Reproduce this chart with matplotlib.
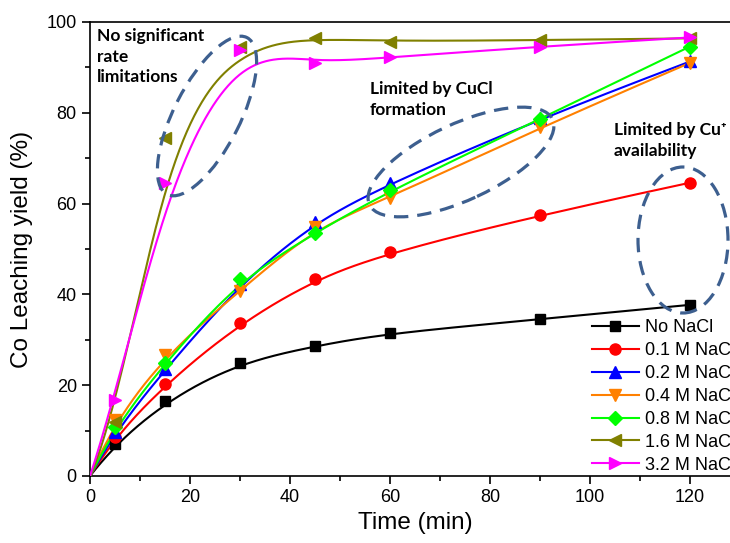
import numpy as np
import matplotlib
matplotlib.use("Agg")
import matplotlib.pyplot as plt
from matplotlib.patches import Ellipse
import matplotlib.transforms as mtransforms

plt.rcParams['font.family'] = ['Liberation Sans', 'DejaVu Sans']

time = [0, 5, 15, 30, 45, 60, 90, 120]
no_nacl = [0, 7.0, 16.6, 25.0, 28.6, 31.6, 34.5, 37.7]
nacl_01 = [0, 8.7, 20.3, 33.6, 43.3, 49.4, 57.5, 64.6]
nacl_02 = [0, 9.8, 23.5, 42.3, 56.0, 64.5, 78.8, 91.3]
nacl_04 = [0, 12.3, 26.7, 40.8, 54.8, 61.2, 76.8, 91.0]
nacl_08 = [0, 10.9, 25.0, 43.3, 53.5, 63.0, 78.6, 94.6]
nacl_16 = [0, 12.0, 74.4, 94.6, 96.4, 95.7, 96.0, 96.4]
nacl_32 = [0, 16.8, 64.6, 93.8, 91.0, 92.2, 94.6, 96.6]

labels = ["No NaCl", "0.1 M NaCl", "0.2 M NaCl", "0.4 M NaCl",
          "0.8 M NaCl", "1.6 M NaCl", "3.2 M NaCl"]
series = [no_nacl, nacl_01, nacl_02, nacl_04, nacl_08, nacl_16, nacl_32]
colors = ["#000000", "#ff0000", "#0000ff", "#ff8000", "#00ff00", "#808000", "#ff00ff"]
markers = ["s", "o", "^", "v", "D", "<", ">"]
msizes = [7, 8, 8, 8, 7, 8, 8]


def bspline(xs, ys, num=400):
    P = np.column_stack([xs, ys]).astype(float)
    n = len(P) - 1
    k = 3
    knots = np.concatenate([[0] * k, np.arange(0, n - k + 2), [n - k + 1] * k]).astype(float)
    ts = np.linspace(0, n - k + 1, num)
    out = []
    for t in ts:
        if t >= knots[n + 1]:
            s = n
        else:
            s = np.searchsorted(knots, t, side='right') - 1
        d = [P[j + s - k].copy() for j in range(k + 1)]
        for r in range(1, k + 1):
            for j in range(k, r - 1, -1):
                i = j + s - k
                denom = knots[i + k + 1 - r] - knots[i]
                alpha = 0.0 if denom == 0 else (t - knots[i]) / denom
                d[j] = (1 - alpha) * d[j - 1] + alpha * d[j]
        out.append(d[k])
    out = np.array(out)
    return out[:, 0], out[:, 1]


fig = plt.figure(figsize=(7.30, 5.43), dpi=100)
ax_left = 90 / 730
ax_bottom = 1 - 476 / 543
ax_w = 130 * 5 / 730
ax_h = (476 - 22) / 543
ax = fig.add_axes([ax_left, ax_bottom, ax_w, ax_h])

for ys, c, m, ms, lab in zip(series, colors, markers, msizes, labels):
    bx, by = bspline(time, ys)
    ax.plot(bx, by, color=c, lw=1.5, zorder=3)
    ax.plot(time[1:], ys[1:], linestyle='none', marker=m, color=c, ms=ms, zorder=4)
    ax.plot([], [], color=c, lw=1.5, marker=m, ms=ms, label=lab)

ax.set_xlim(0, 130)
ax.set_ylim(0, 100)
ax.set_xticks([0, 20, 40, 60, 80, 100, 120])
ax.set_xticks(np.arange(0, 131, 10), minor=True)
ax.set_yticks([0, 20, 40, 60, 80, 100])
ax.set_yticks(np.arange(0, 101, 10), minor=True)
ax.tick_params(which='major', direction='out', length=6, width=1.2, labelsize=13)
ax.tick_params(which='minor', direction='out', length=3.5, width=1.2)
for sp in ax.spines.values():
    sp.set_linewidth(1.2)
ax.set_xlabel("Time (min)", fontsize=17.5, labelpad=4)
ax.set_ylabel("Co Leaching yield (%)", fontsize=17.5, labelpad=10)

leg = ax.legend(loc='upper left', bbox_to_anchor=(592 / 730, 1 - 319 / 543),
                bbox_transform=fig.transFigure, frameon=False, fontsize=13,
                handlelength=2.6, handletextpad=0.35, labelspacing=0.33,
                borderaxespad=0, borderpad=0)

ann_font = dict(family=['Lato', 'DejaVu Sans'], fontweight='bold', fontsize=12.5, color='black')
ax.text((97 - 90) / 5, (476 - 28) / 4.54, "No significant\nrate\nlimitations",
        va='top', ha='left', linespacing=1.35, **ann_font, zorder=6)
ax.text((370 - 90) / 5, (476 - 81) / 4.54, "Limited by CuCl\nformation",
        va='top', ha='left', linespacing=1.35, **ann_font, zorder=6)
ax.text((614 - 90) / 5, (476 - 122) / 4.54, "Limited by Cu\u207a\navailability",
        va='top', ha='left', linespacing=1.35, **ann_font, zorder=6)

ell_color = '#3d5f8f'
ellipses = [
    ((207 - 90) / 5, (476 - 116) / 4.54, 176, 66, 63),
    ((461 - 90) / 5, (476 - 162) / 4.54, 202, 76, 25),
    ((683 - 90) / 5, (476 - 240) / 4.54, 90, 146, 0),
]
for cx, cy, w, h, ang in ellipses:
    tr = fig.dpi_scale_trans + mtransforms.ScaledTranslation(cx, cy, ax.transData)
    e = Ellipse((0, 0), width=w / 100, height=h / 100, angle=ang, transform=tr,
                fill=False, edgecolor=ell_color, lw=2.3, linestyle=(0, (4.5, 2.8)),
                zorder=5, clip_on=False)
    ax.add_patch(e)

fig.savefig("out.png", dpi=100)
